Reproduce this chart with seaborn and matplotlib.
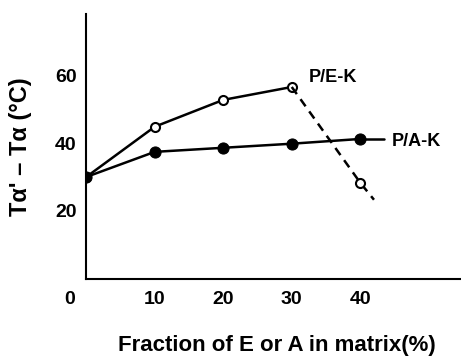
import numpy as np
import pandas as pd
import seaborn as sns
import matplotlib.pyplot as plt

# Data
fraction = [0, 10, 20, 30, 40]
pek_solid_x = [0, 10, 20, 30]
pek_solid_y = [30, 44.8, 52.7, 56.5]
pek_dash_x = [30, 40, 42]
pek_dash_y = [56.5, 28.3, 23.3]
pak_y = [30, 37.4, 38.6, 39.8, 41.2]
pak_tail_x = [40, 43.5]
pak_tail_y = [41.2, 41.2]

xticks = [0, 10, 20, 30, 40]
yticks = [20, 40, 60]

sns.set_style("white")
plt.rcParams['font.family'] = ['Liberation Sans', 'DejaVu Sans']
plt.rcParams['font.weight'] = 'bold'
plt.rcParams['text.color'] = 'black'
plt.rcParams['axes.labelcolor'] = 'black'
plt.rcParams['xtick.color'] = 'black'
plt.rcParams['ytick.color'] = 'black'

fig = plt.figure(figsize=(4.61, 3.58), dpi=100)
ax = fig.add_axes([0.187, 0.221, 0.813, 0.740])

lw = 1.8
sns.lineplot(x=pek_solid_x, y=pek_solid_y, ax=ax, color='black', lw=lw,
             marker='o', markersize=6.5, markerfacecolor='white',
             markeredgecolor='black', markeredgewidth=1.5)
sns.lineplot(x=pek_dash_x, y=pek_dash_y, ax=ax, color='black', lw=lw,
             linestyle=(0, (3.5, 2.5)))
ax.plot(pek_dash_x[1:2], pek_dash_y[1:2], 'o', ms=6.5, mfc='white',
        mec='black', mew=1.5)

sns.lineplot(x=fraction, y=pak_y, ax=ax, color='black', lw=lw,
             marker='o', markersize=8, markerfacecolor='black',
             markeredgecolor='black')
sns.lineplot(x=pak_tail_x, y=pak_tail_y, ax=ax, color='black', lw=lw)

ax.text(32.5, 59.4, 'P/E-K', fontsize=13, fontweight='bold', va='center')
ax.text(44.6, 40.5, 'P/A-K', fontsize=13, fontweight='bold', va='center')

ax.set_xlim(0, 54.7)
ax.set_ylim(0, 78)
ax.set_xticks(xticks)
ax.set_yticks(yticks)
ax.set_xticklabels(['0      ', '10', '20', '30', '40'])
ax.tick_params(direction='in', length=5, width=1.3, labelsize=14, pad=7,
               colors='black')
ax.tick_params(axis='x', pad=9)
for lab in ax.get_xticklabels() + ax.get_yticklabels():
    lab.set_fontweight('bold')

for s in ['top', 'right']:
    ax.spines[s].set_visible(False)
for s in ['left', 'bottom']:
    ax.spines[s].set_linewidth(1.5)
    ax.spines[s].set_color('black')

ax.set_ylabel("T\u03b1' \u2013 T\u03b1 (\u00b0C)", fontsize=17, fontweight='bold')
ax.yaxis.set_label_coords(-0.145, 0.5)
ax.set_xlabel('Fraction of E or A in matrix(%)', fontsize=16, fontweight='bold')
ax.xaxis.set_label_coords(0.51, -0.21)

fig.savefig('out.png', dpi=100)
